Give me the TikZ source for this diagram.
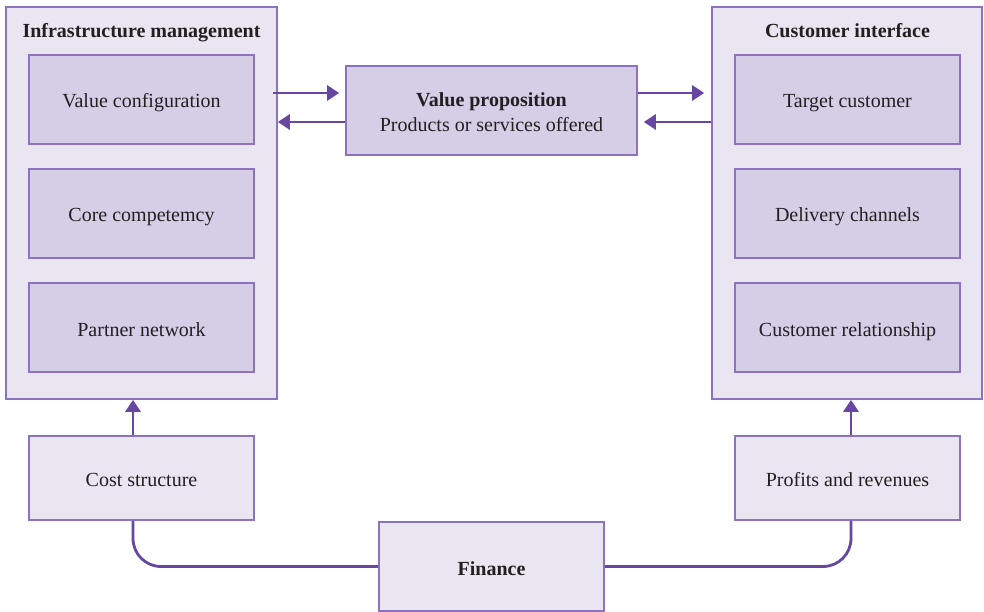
\documentclass[tikz,border=0pt]{standalone}
\usepackage{fontspec}
\setmainfont{Liberation Serif}
\usetikzlibrary{arrows.meta}
\definecolor{outerfill}{HTML}{E9E5F1}
\definecolor{innerfill}{HTML}{D6CDE6}
\definecolor{boxline}{HTML}{8C72BF}
\definecolor{arrowc}{HTML}{6747A1}
\definecolor{txt}{HTML}{231F20}
\begin{document}
\begin{tikzpicture}[x=1pt,y=-1pt,
  outerbox/.style={draw=boxline,fill=outerfill,line width=1.6pt,minimum width=#1,inner sep=0pt},
  innerbox/.style={draw=boxline,fill=innerfill,line width=1.6pt,minimum width=225pt,minimum height=89pt,inner sep=0pt,text=txt,font=\fontsize{20}{25}\selectfont,align=center,text height=17pt,text depth=0pt},
  lightbox/.style={draw=boxline,fill=outerfill,line width=1.6pt,minimum width=225pt,inner sep=0pt,text=txt,font=\fontsize{20}{25}\selectfont,align=center,text height=17pt,text depth=0pt},
  titlelab/.style={text=txt,font=\fontsize{20}{25}\selectfont\bfseries,anchor=base},
  conn/.style={draw=arrowc,line width=2.8pt},
  arr/.style={conn,-{Triangle[length=12pt,width=15pt]}}]
\useasboundingbox (0,0) rectangle (984,612);
% left group
\node[outerbox=271pt,minimum height=392pt] (L) at (141.5,203) {};
\node[titlelab] (Lt) at (141.5,37.5) {Infrastructure management};
\node[innerbox] (L1) at (141.5,99.5) {Value configuration};
\node[innerbox] (L2) at (141.5,213.5) {Core competemcy};
\node[innerbox] (L3) at (141.5,327.5) {Partner network};
% right group
\node[outerbox=270pt,minimum height=392pt] (R) at (847,203) {};
\node[titlelab] (Rt) at (847.5,37.5) {Customer interface};
\node[innerbox] (R1) at (847.5,99.5) {Target customer};
\node[innerbox] (R2) at (847.5,213.5) {Delivery channels};
\node[innerbox] (R3) at (847.5,327.5) {Customer relationship};
% value proposition
\node[innerbox,minimum width=291pt,text height=42pt] (VP) at (491.5,110.5) {\textbf{Value proposition}\\Products or services offered};
% bottom row
\node[lightbox,minimum height=84pt] (C) at (141.5,478) {Cost structure};
\node[lightbox,minimum height=84pt] (P) at (847.5,478) {Profits and revenues};
\node[lightbox,minimum height=89pt] (F) at (491.5,566.5) {\textbf{Finance}};
% horizontal arrows
\coordinate (la) at (273,93);
\draw[arr,shorten >=6pt] (la) -- (VP.west |- la);
\draw[arr] (VP.west |- 0,122) -- (L.east |- 0,122);
\draw[arr,shorten >=7pt] (VP.east |- 0,93) -- (R.west |- 0,93);
\draw[arr,shorten >=6pt] (R.west |- 0,122) -- (VP.east |- 0,122);
% vertical arrows
\draw[arr] (C.north -| 133,0) -- (L.south -| 133,0);
\draw[arr] (P.north -| 851,0) -- (R.south -| 851,0);
% bottom connectors
\draw[conn,rounded corners=28pt] (C.south -| 133,0) |- (F.west);
\draw[conn,rounded corners=28pt] (F.east) -| (P.south -| 851,0);
\end{tikzpicture}
\end{document}
